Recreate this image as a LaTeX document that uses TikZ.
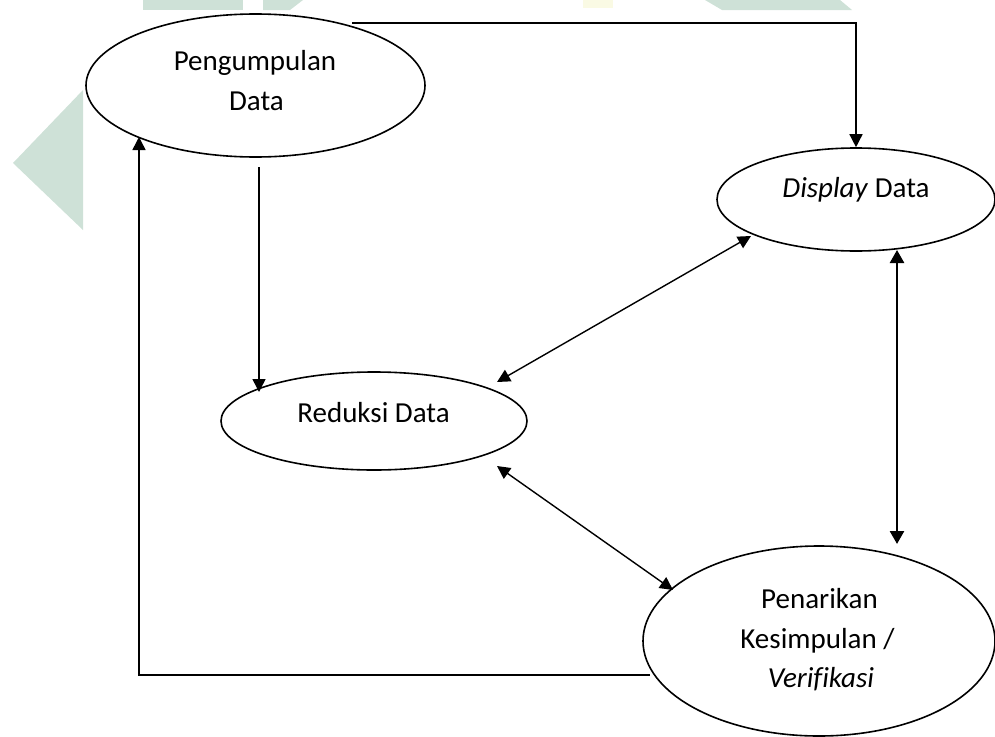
\documentclass[tikz,border=0pt]{standalone}
\usepackage{fontspec}
\setmainfont[Ligatures=NoCommon]{Carlito}
\usetikzlibrary{arrows.meta,shapes.geometric}
\definecolor{wm}{RGB}{206,225,215}
\definecolor{wmy}{RGB}{250,250,228}
\tikzset{
  bub/.style={draw=black,line width=1.6pt,ellipse,fill=white,inner sep=0pt},
  lbl/.style={anchor=base,inner sep=0pt,font=\fontsize{29}{40}\selectfont},
  arr/.style={draw=black,line width=1.5pt,-{Triangle[length=13pt,width=13pt]}},
  darr/.style={draw=black,line width=1.4pt,{Triangle[length=13pt,width=13pt]}-{Triangle[length=13pt,width=13pt]}},
  tarr/.style={draw=black,line width=2.6pt,{Triangle[length=13pt,width=14pt]}-{Triangle[length=13pt,width=14pt]}}
}
\begin{document}
\begin{tikzpicture}[x=1pt,y=-1pt]
\useasboundingbox (0,0) rectangle (995,736);
% watermark
\fill[wm] (143,0) rectangle (243,10);
\fill[wm] (263,0) -- (303,0) -- (290,10) -- (263,10) -- cycle;
\fill[wm] (705,0) -- (840,0) -- (852,10) -- (722,10) -- cycle;
\fill[wmy] (583,0) rectangle (613,8);
\fill[wm] (83,90) -- (13,163) -- (83,230) -- cycle;
% ellipses
\node[bub,minimum width=339pt,minimum height=143pt] (P) at (255.5,85.5) {};
\node[bub,minimum width=278pt,minimum height=103pt] (D) at (856,199.5) {};
\node[bub,minimum width=306pt,minimum height=98pt] (R) at (374,421) {};
\node[bub,minimum width=352pt,minimum height=190pt] (K) at (819,641) {};
% labels
\node[lbl] (p1) at (255,70) {Pengumpulan};
\node[lbl] (p2) at (256.5,110) {Data};
\node[lbl] (d1) at (856,197) {\textit{Display} Data};
\node[lbl] (r1) at (373.5,422) {Reduksi Data};
\node[lbl] (k1) at (819.5,608) {Penarikan};
\node[lbl] (k2) at (817.5,648) {Kesimpulan /};
\node[lbl] (k3) at (821,687) {\textit{Verifikasi}};
% connector points
\coordinate (pd) at (352,23);
\coordinate (pr1) at (259,167);
\coordinate (pr2) at (259,392);
\coordinate (kl) at (650,675);
\coordinate (lc) at (139,675);
\coordinate (pl) at (139,137);
\coordinate (rd1) at (497,382);
\coordinate (rd2) at (751,236);
\coordinate (rk1) at (497,466);
\coordinate (rk2) at (673,590);
\coordinate (dk1) at (897,250);
\coordinate (dk2) at (897,544);
% connectors
\draw[arr] (pd) -| (D.north);
\draw[arr] (pr1) -- (pr2);
\draw[arr] (kl) -- (lc) -- (pl);
\draw[darr] (rd1) -- (rd2);
\draw[darr] (rk1) -- (rk2);
\draw[tarr] (dk1) -- (dk2);
\end{tikzpicture}
\end{document}
